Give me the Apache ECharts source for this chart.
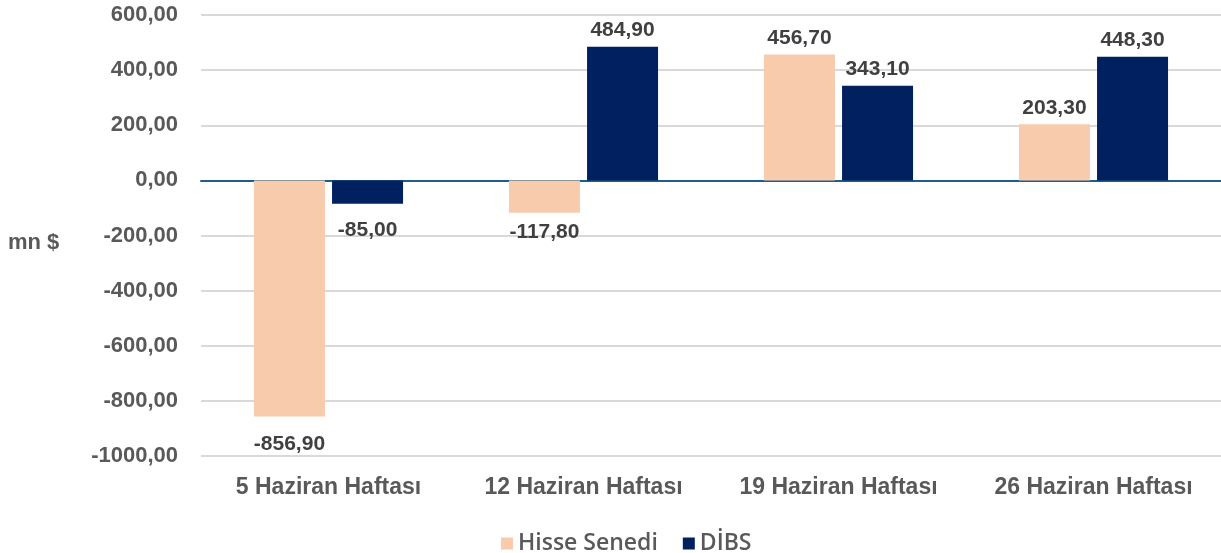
<!DOCTYPE html>
<html><head><meta charset="utf-8">
<script src="https://cdn.jsdelivr.net/npm/echarts@6/dist/echarts.min.js"></script>
<style>html,body{margin:0;padding:0;background:#fff}#c{width:1221px;height:553px}</style>
</head><body><div id="c"></div>
<script>
const categories = ['5 Haziran Haftası', '12 Haziran Haftası', '19 Haziran Haftası', '26 Haziran Haftası'];
const hisseSenedi = [-856.9, -117.8, 456.7, 203.3];
const dibs = [-85.0, 484.9, 343.1, 448.3];
const seriesNames = ['Hisse Senedi', 'DİBS'];
const yUnit = 'mn $';

const FONT = 'Liberation Sans, Arial, sans-serif';
const fmt = v => v.toFixed(2).replace('.', ',');
// label offsets below negative bars (styling, per category index)
const mk = (arr, dmap) => arr.map((v, i) => ({value: v, label: v < 0 ? {position: 'bottom', distance: (dmap[i] !== undefined ? dmap[i] : 17)} : {position: 'top', distance: 6}}));
const labelStyle = {show: true, formatter: p => fmt(p.value), color: '#404040', fontWeight: 'bold', fontSize: 21, fontFamily: FONT};

const chart = echarts.init(document.getElementById('c'));
chart.setOption({
  animation: false,
  grid: {left: 201, right: 0, top: 15, bottom: 97},
  legend: {
    top: 527, left: 496, itemWidth: 12, itemHeight: 12, itemGap: 25, icon: 'rect',
    textStyle: {color: '#595959', fontSize: 23, fontFamily: 'Open Sans, sans-serif', fontWeight: 600}
  },
  xAxis: {
    type: 'category', data: categories,
    axisLine: {onZero: true, lineStyle: {color: '#1f5f87', width: 2}},
    axisTick: {show: false},
    axisLabel: {interval: 0, hideOverlap: false, color: '#595959', fontWeight: 'bold', fontSize: 23, fontFamily: FONT, margin: 20}
  },
  yAxis: {
    type: 'value', min: -1000, max: 600, interval: 200,
    axisLine: {show: false}, axisTick: {show: false},
    splitLine: {lineStyle: {color: '#d9d9d9', width: 2}},
    axisLabel: {formatter: fmt, color: '#595959', fontWeight: 'bold', fontSize: 22, fontFamily: FONT, margin: 23}
  },
  graphic: [{type: 'text', left: 8, top: 232, style: {text: yUnit, fill: '#595959', font: 'bold 22px Liberation Sans, Arial, sans-serif'}}],
  series: [
    {name: seriesNames[0], type: 'bar', data: mk(hisseSenedi, {0: 17, 1: 9}), barWidth: 71, barGap: '10%', itemStyle: {color: '#F8CBAD'}, label: labelStyle},
    {name: seriesNames[1], type: 'bar', data: mk(dibs, {0: 16}), barWidth: 71, barGap: '10%', itemStyle: {color: '#002060'}, label: labelStyle}
  ]
});
</script></body></html>
